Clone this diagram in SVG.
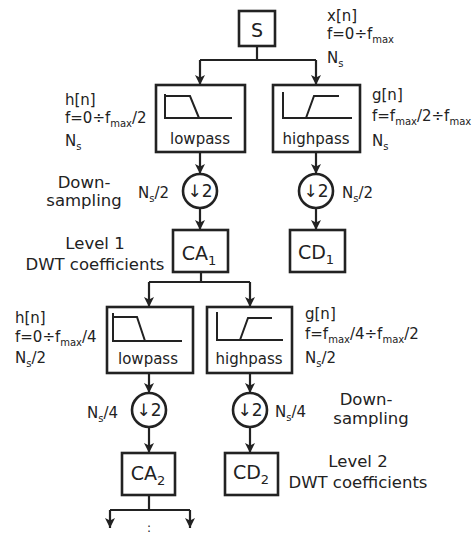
<svg xmlns="http://www.w3.org/2000/svg" width="475" height="537" viewBox="0 0 475 537">
<style>
.t{font-family:"DejaVu Sans","Liberation Sans",sans-serif;fill:#222}
.lab{font-size:15px}
.big{font-size:16.5px}
.box{fill:#fff;stroke:#222;stroke-width:2.6}
.wire{fill:none;stroke:#222;stroke-width:2.2}
.g{fill:none;stroke:#222;stroke-width:2}
</style>
<defs>
<marker id="ah" viewBox="0 0 10 10" refX="10" refY="5" markerWidth="10" markerHeight="10" markerUnits="userSpaceOnUse" orient="auto">
<path d="M0,0 L10,5 L0,10 L2.5,5 z" fill="#222"/>
</marker>
</defs>
<rect width="475" height="537" fill="#fff"/>

<g id="connectors">
<path class="wire" d="M257,46 V60"/>
<path class="wire" d="M200,60 H316"/>
<path class="wire" d="M200,60 V85" marker-end="url(#ah)"/>
<path class="wire" d="M316,60 V85" marker-end="url(#ah)"/>
<path class="wire" d="M200,152 V174" marker-end="url(#ah)"/>
<path class="wire" d="M316,152 V174" marker-end="url(#ah)"/>
<path class="wire" d="M200,208 V230" marker-end="url(#ah)"/>
<path class="wire" d="M316,208 V230" marker-end="url(#ah)"/>
<path class="wire" d="M201,272 V282"/>
<path class="wire" d="M149,282 H250"/>
<path class="wire" d="M149,282 V307" marker-end="url(#ah)"/>
<path class="wire" d="M250,282 V307" marker-end="url(#ah)"/>
<path class="wire" d="M149,373 V393" marker-end="url(#ah)"/>
<path class="wire" d="M250,373 V393" marker-end="url(#ah)"/>
<path class="wire" d="M149,427 V453" marker-end="url(#ah)"/>
<path class="wire" d="M250,427 V453" marker-end="url(#ah)"/>
<path class="wire" d="M149,495 V510"/>
<path class="wire" d="M110,510 H190"/>
<path class="wire" d="M110,510 V528" marker-end="url(#ah)"/>
<path class="wire" d="M190,510 V528" marker-end="url(#ah)"/>
</g>

<g id="S">
<rect class="box" x="239" y="11" width="36" height="35"/>
<text class="t" x="257" y="37" font-size="19" text-anchor="middle">S</text>
</g>
<g id="S-labels">
<text class="t lab" x="327" y="21">x[n]</text>
<text class="t lab" x="327" y="39">f=0÷f<tspan font-size="10" dy="4">max</tspan></text>
<text class="t lab" x="327" y="63">N<tspan font-size="10" dy="4">s</tspan></text>
</g>

<g id="lowpass1">
<rect class="box" x="156" y="85" width="89" height="67"/>
<path class="g" d="M165,94 V118 H232 M165,96 H190 L199,118"/>
<text class="t lab" x="200" y="144" text-anchor="middle">lowpass</text>
</g>
<g id="lowpass1-labels">
<text class="t lab" x="65" y="105">h[n]</text>
<text class="t lab" x="65" y="123">f=0÷f<tspan font-size="10" dy="4">max</tspan><tspan dy="-4">/2</tspan></text>
<text class="t lab" x="65" y="146">N<tspan font-size="10" dy="4">s</tspan></text>
</g>

<g id="highpass1">
<rect class="box" x="273" y="85" width="87" height="67"/>
<path class="g" d="M283,92 V118 H352 M306,118 L314,96 H339"/>
<text class="t lab" x="316" y="144" text-anchor="middle">highpass</text>
</g>
<g id="highpass1-labels">
<text class="t lab" x="372" y="100">g[n]</text>
<text class="t lab" x="372" y="121">f=f<tspan font-size="10" dy="4">max</tspan><tspan dy="-4">/2÷f</tspan><tspan font-size="10" dy="4">max</tspan></text>
<text class="t lab" x="372" y="146">N<tspan font-size="10" dy="4">s</tspan></text>
</g>

<g id="down1L">
<circle class="box" cx="200" cy="191" r="17"/>
<text class="t" x="200" y="197" font-size="17" text-anchor="middle">↓2</text>
<text class="t lab" x="138" y="198">N<tspan font-size="10" dy="4">s</tspan><tspan dy="-4">/2</tspan></text>
</g>
<g id="down1R">
<circle class="box" cx="316" cy="191" r="17"/>
<text class="t" x="316" y="197" font-size="17" text-anchor="middle">↓2</text>
<text class="t lab" x="342" y="198">N<tspan font-size="10" dy="4">s</tspan><tspan dy="-4">/2</tspan></text>
</g>
<g id="downsampling1-label">
<text class="t big" x="84" y="188" text-anchor="middle">Down-</text>
<text class="t big" x="84" y="206" text-anchor="middle">sampling</text>
</g>

<g id="CA1">
<rect class="box" x="173" y="230" width="55" height="42"/>
<text class="t" x="199" y="260" font-size="19" text-anchor="middle">CA<tspan font-size="13" dy="5">1</tspan></text>
</g>
<g id="CD1">
<rect class="box" x="290" y="230" width="55" height="42"/>
<text class="t" x="316" y="259" font-size="19" text-anchor="middle">CD<tspan font-size="13" dy="5">1</tspan></text>
</g>
<g id="level1-label">
<text class="t big" x="95" y="249" text-anchor="middle">Level 1</text>
<text class="t big" x="95" y="270" text-anchor="middle">DWT coefficients</text>
</g>

<g id="lowpass2">
<rect class="box" x="107" y="307" width="86" height="66"/>
<path class="g" d="M113,313 V341 H182 M113,317 H137 L145,341"/>
<text class="t lab" x="148" y="364" text-anchor="middle">lowpass</text>
</g>
<g id="lowpass2-labels">
<text class="t lab" x="15" y="323">h[n]</text>
<text class="t lab" x="15" y="342">f=0÷f<tspan font-size="10" dy="4">max</tspan><tspan dy="-4">/4</tspan></text>
<text class="t lab" x="15" y="363">N<tspan font-size="10" dy="4">s</tspan><tspan dy="-4">/2</tspan></text>
</g>

<g id="highpass2">
<rect class="box" x="207" y="307" width="85" height="66"/>
<path class="g" d="M217,312 V340 H283 M240,340 L248,318 H272"/>
<text class="t lab" x="249" y="364" text-anchor="middle">highpass</text>
</g>
<g id="highpass2-labels">
<text class="t lab" x="305" y="319">g[n]</text>
<text class="t lab" x="305" y="339">f=f<tspan font-size="10" dy="4">max</tspan><tspan dy="-4">/4÷f</tspan><tspan font-size="10" dy="4">max</tspan><tspan dy="-4">/2</tspan></text>
<text class="t lab" x="305" y="363">N<tspan font-size="10" dy="4">s</tspan><tspan dy="-4">/2</tspan></text>
</g>

<g id="down2L">
<circle class="box" cx="149" cy="410" r="17"/>
<text class="t" x="149" y="416" font-size="17" text-anchor="middle">↓2</text>
<text class="t lab" x="87" y="418">N<tspan font-size="10" dy="4">s</tspan><tspan dy="-4">/4</tspan></text>
</g>
<g id="down2R">
<circle class="box" cx="250" cy="410" r="17"/>
<text class="t" x="250" y="416" font-size="17" text-anchor="middle">↓2</text>
<text class="t lab" x="275" y="417">N<tspan font-size="10" dy="4">s</tspan><tspan dy="-4">/4</tspan></text>
</g>
<g id="downsampling2-label">
<text class="t big" x="366" y="405" text-anchor="middle">Down-</text>
<text class="t big" x="371" y="424" text-anchor="middle">sampling</text>
</g>

<g id="CA2">
<rect class="box" x="122" y="453" width="53" height="42"/>
<text class="t" x="148" y="480" font-size="19" text-anchor="middle">CA<tspan font-size="13" dy="5">2</tspan></text>
</g>
<g id="CD2">
<rect class="box" x="225" y="453" width="53" height="42"/>
<text class="t" x="251" y="479" font-size="19" text-anchor="middle">CD<tspan font-size="13" dy="5">2</tspan></text>
</g>
<g id="level2-label">
<text class="t big" x="358" y="467" text-anchor="middle">Level 2</text>
<text class="t big" x="358" y="488" text-anchor="middle">DWT coefficients</text>
</g>

<g id="continuation">
<text class="t" x="149" y="532" font-size="12" text-anchor="middle">:</text>
</g>
</svg>
